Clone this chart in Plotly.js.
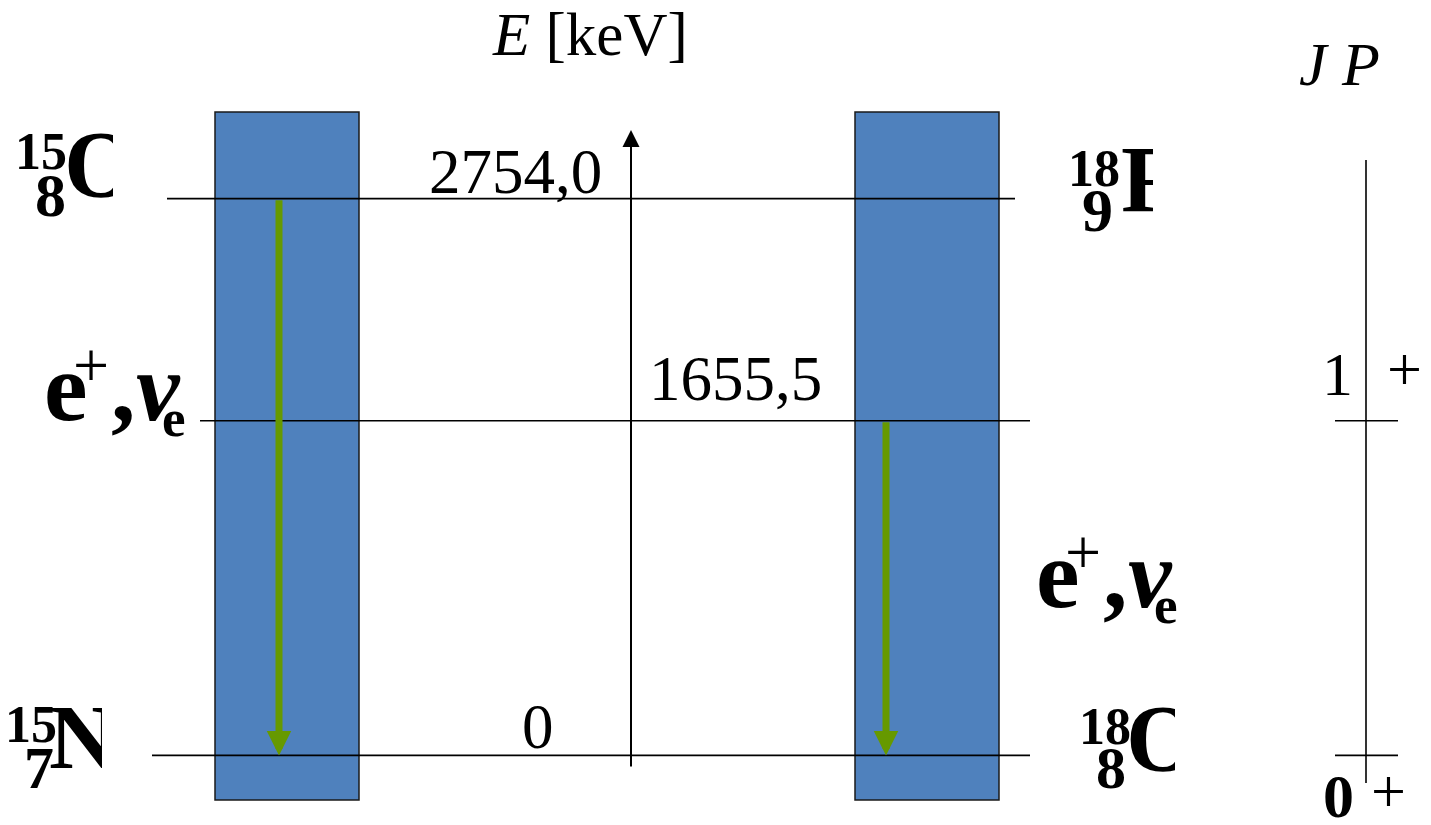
<!DOCTYPE html>
<html>
<head>
<meta charset="utf-8">
<script src="https://cdn.plot.ly/plotly-3.0.1.min.js"></script>
<style>html,body{margin:0;padding:0;background:#fff;}#chart{width:1431px;height:825px;}</style>
</head>
<body>
<div id="chart"></div>
<script>
// ---------------- data ----------------
const levelEnergies = [2754.0, 1655.5, 0];          // keV
const levelLabels   = ["2754,0", "1655,5", "0"];
const nuclideMass   = ["15", "15", "18", "18"];
const nuclideZ      = ["8", "7", "9", "8"];
const nuclideSymbol = ["O", "N", "F", "O"];
const nuclideLevel  = [2754.0, 0, 2754.0, 0];      // keV
const decayFrom     = [2754.0, 1655.5];             // keV
const decayTo       = [0, 0];                       // keV
const decayProducts = ["e", "+", ",", "ν", "e"];
const spinJ         = ["1", "0"];
const parity        = ["+", "+"];
const spinLevel     = [1655.5, 0];                  // keV
const titleText     = "<i>E</i> [keV]";
const jpTitle       = "<i>J P</i>";

// ---------------- layout helpers ----------------
const W = 1431, H = 825;
const FONT = "Liberation Serif";
const P = y => 1 - y / H;
const DESC = 0.216;

function txt(text, x, opts) {
  const size = opts.size;
  const a = {
    text: text, showarrow: false, xref: "x", x: x,
    xanchor: opts.xanchor || "left", yanchor: "bottom",
    font: {family: FONT, size: size, color: "#000",
           weight: opts.bold ? "bold" : "normal",
           style: opts.italic ? "italic" : "normal"},
    borderpad: 1
  };
  if (opts.E !== undefined) {
    a.yref = "y"; a.y = opts.E;
    a.yshift = -((opts.dy || 0) + DESC * size + 1);
  } else {
    a.yref = "paper"; a.y = P(opts.base);
    a.yshift = -(DESC * size + 1);
  }
  return a;
}
function clip(x0, x1, y0, y1) {
  return {text: " ", showarrow: false, xref: "x", x: x0, yref: "paper", y: P(y0),
          xanchor: "left", yanchor: "top", width: x1 - x0, height: y1 - y0,
          bgcolor: "#ffffff", borderpad: 0, borderwidth: 0, font: {size: 10}};
}

const shapes = [];
const annotations = [];

// nucleus columns
[[215, 359], [855, 999]].forEach(c => shapes.push({
  type: "rect", xref: "x", yref: "paper", x0: c[0], x1: c[1], y0: P(800), y1: P(112),
  fillcolor: "#4f81bd", line: {color: "#1a1a1a", width: 1.5}
}));

// energy levels
const levelExtent = [[167, 1015], [200, 1030], [152, 1030]];
levelEnergies.forEach((e, i) => shapes.push({
  type: "line", xref: "x", yref: "y", x0: levelExtent[i][0], x1: levelExtent[i][1], y0: e, y1: e,
  line: {color: "#000", width: 1.6}
}));

// JP column
shapes.push({type: "line", xref: "x", yref: "paper", x0: 1366, x1: 1366, y0: P(783), y1: P(160),
             line: {color: "#000", width: 1.6}});
spinLevel.forEach(e => shapes.push({
  type: "line", xref: "x", yref: "y", x0: 1335, x1: 1398, y0: e, y1: e, line: {color: "#000", width: 1.6}
}));

// energy axis arrow
annotations.push({text: "", showarrow: true, xref: "x", x: 631, yref: "paper", y: P(130),
  ax: 0, ay: 638, arrowhead: 2, arrowsize: 1.7, arrowwidth: 2, arrowcolor: "#000", standoff: 0});

// decay arrows
const decayX = [279, 886];
decayFrom.forEach((e, i) => annotations.push({
  text: "", showarrow: true, xref: "x", x: decayX[i], yref: "y", y: decayTo[i],
  axref: "x", ax: decayX[i], ayref: "y", ay: e,
  arrowhead: 2, arrowsize: 0.7, arrowwidth: 7, arrowcolor: "#669900", standoff: 0
}));

// titles
annotations.push(txt(titleText, 590, {base: 56, size: 61, xanchor: "center"}));
annotations.push(txt(jpTitle, 1297, {base: 86, size: 62}));

// level labels
const levelLabelPos = [[515, -4], [735, -19], [538, -6]];
levelLabels.forEach((t, i) => annotations.push(
  txt(t, levelLabelPos[i][0], {E: levelEnergies[i], dy: levelLabelPos[i][1], size: 63, xanchor: "center"})));

// nuclide labels
const nucPos = [
  {m: [41, -29, 52], z: [50, 18, 62], s: [62, 0, 95]},
  {m: [31, -13, 52], z: [39, 34, 60], s: [47, 14, 92]},
  {m: [1094, -12, 52], z: [1097, 33, 62], s: [1119, 15, 95]},
  {m: [1105, -11, 52], z: [1111, 34, 60], s: [1124, 17, 95]}
];
nuclideSymbol.forEach((s, i) => {
  const p = nucPos[i], E = nuclideLevel[i];
  annotations.push(txt(s, p.s[0], {E: E, dy: p.s[1], size: p.s[2], bold: true}));
  annotations.push(txt(nuclideMass[i], p.m[0], {E: E, dy: p.m[1], size: p.m[2], bold: true, xanchor: "center"}));
  annotations.push(txt(nuclideZ[i], p.z[0], {E: E, dy: p.z[1], size: p.z[2], bold: true, xanchor: "center"}));
});

// decay products e+, nu_e
const prodPos = [[-3, 0, 98, "left", false], [46, -33, 64, "center", false], [64, 0, 98, "left", false],
                 [89, 0, 98, "left", true], [115, 16, 53, "left", false]];
function products(x0, where) {
  decayProducts.forEach((t, k) => {
    const q = prodPos[k];
    const o = {size: q[2], bold: k !== 1, italic: q[4], xanchor: q[3]};
    if (where.E !== undefined) { o.E = where.E; o.dy = q[1]; } else { o.base = where.base + q[1]; }
    annotations.push(txt(t, x0 + q[0], o));
  });
}
products(45, {E: levelEnergies[1]});
products(1037, {base: 608});

// JP labels
spinJ.forEach((j, i) => {
  const E = spinLevel[i];
  if (i === 0) {
    annotations.push(txt(j, 1337.5, {E: E, dy: -25, size: 62, xanchor: "center"}));
    annotations.push(txt(parity[i], 1404, {E: E, dy: -30, size: 62, xanchor: "center"}));
  } else {
    annotations.push(txt(j, 1338.5, {E: E, dy: 62, size: 62, xanchor: "center", bold: true}));
    annotations.push(txt(parity[i], 1388.5, {E: E, dy: 57, size: 62, xanchor: "center"}));
  }
});

// clipped label edges (as in the original)
annotations.push(clip(113, 160, 112, 215));
annotations.push(clip(102, 146, 690, 790));
annotations.push(clip(186, 199, 395, 462));
annotations.push(clip(1153, 1205, 130, 215));
annotations.push(clip(1175, 1220, 690, 790));
annotations.push(clip(1177, 1210, 560, 640));

const layout = {
  width: W, height: H, margin: {l: 0, r: 0, t: 0, b: 0},
  paper_bgcolor: "#fff", plot_bgcolor: "#fff", showlegend: false,
  xaxis: {range: [0, W], visible: false, fixedrange: true},
  yaxis: {range: [-344.3, 3736.8], visible: false, fixedrange: true},
  shapes: shapes, annotations: annotations
};
Plotly.newPlot("chart", [{x: [], y: [], type: "scatter", hoverinfo: "skip"}], layout,
               {staticPlot: true, displayModeBar: false});
</script>
</body>
</html>
